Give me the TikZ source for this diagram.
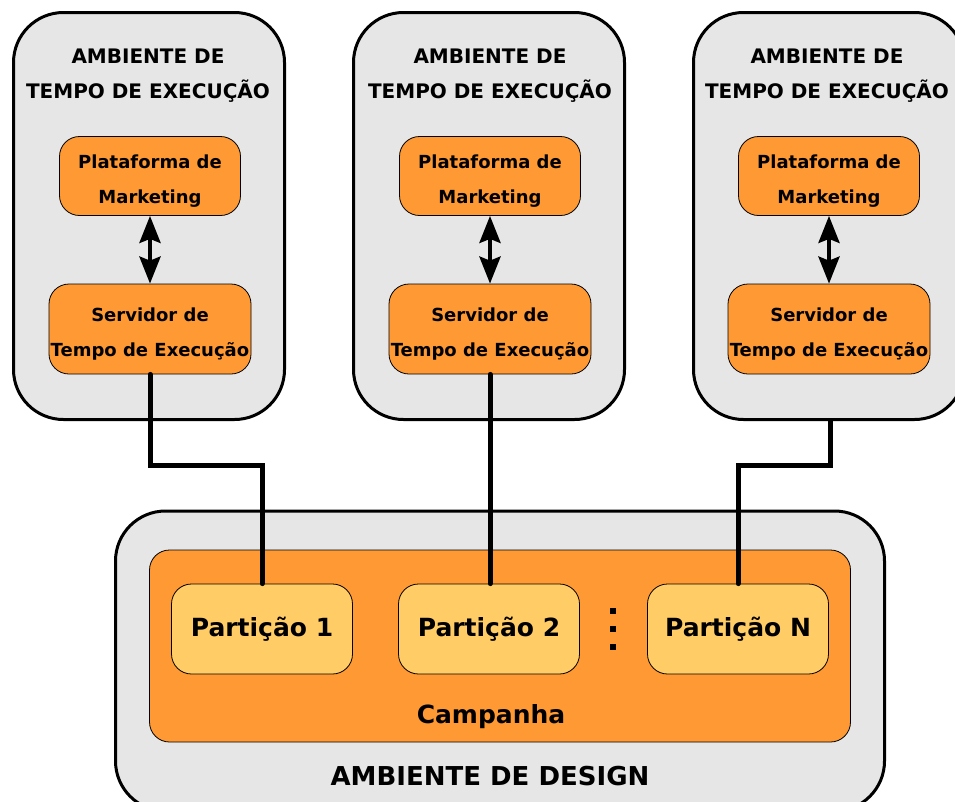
\documentclass[tikz,border=0pt]{standalone}
\usepackage{fontspec}
\setmainfont{DejaVu Sans}
\usepackage{tikz}
\usetikzlibrary{arrows.meta}
\usetikzlibrary{positioning}
\definecolor{envgray}{RGB}{230,230,230}
\definecolor{boxorange}{RGB}{255,153,51}
\definecolor{partyellow}{RGB}{255,204,102}
\tikzset{env/.style={draw, line width=3pt, fill=envgray, rounded corners=50pt, minimum width=271pt, minimum height=407pt}}
\tikzset{comp/.style={draw, line width=0.8pt, fill=boxorange, rounded corners=20pt, align=center, inner sep=0pt, font=\bfseries\fontsize{18}{35}\selectfont, text height=55pt, text depth=0pt}}
\tikzset{part/.style={draw, line width=0.8pt, fill=partyellow, rounded corners=20pt, minimum width=181pt, minimum height=90pt, font=\bfseries\fontsize{25}{30}\selectfont}}
\tikzset{title/.style={align=center, font=\bfseries\fontsize{20}{35}\selectfont}}
\tikzset{link/.style={line width=5pt, line cap=round, line join=miter}}
\tikzset{both/.style={line width=4pt, {Stealth[length=27pt,width=21pt,inset=4pt]}-{Stealth[length=27pt,width=21pt,inset=4pt]}}}
\begin{document}
\begin{tikzpicture}[x=1pt,y=-1pt]
\useasboundingbox (0,0) rectangle (955,801);

% runtime environments
\node[env] (E1) at (149,216) {};
\node[env] (E2) at (489,216) {};
\node[env] (E3) at (829,216) {};

\node[title] (T1) at (148,76) {AMBIENTE DE\\TEMPO DE EXECUÇÃO};
\node[title] (T2) at (490,76) {AMBIENTE DE\\TEMPO DE EXECUÇÃO};
\node[title] (T3) at (827,76) {AMBIENTE DE\\TEMPO DE EXECUÇÃO};

\node[comp, minimum width=181pt, minimum height=79pt] (M1) at (150,176) {Plataforma de\\Marketing};
\node[comp, minimum width=181pt, minimum height=79pt] (M2) at (490,176) {Plataforma de\\Marketing};
\node[comp, minimum width=181pt, minimum height=79pt] (M3) at (829,176) {Plataforma de\\Marketing};

\node[comp, minimum width=202pt, minimum height=90pt] (S1) at (150,329) {Servidor de\\Tempo de Execução};
\node[comp, minimum width=202pt, minimum height=90pt] (S2) at (490,329) {Servidor de\\Tempo de Execução};
\node[comp, minimum width=202pt, minimum height=90pt] (S3) at (829,329) {Servidor de\\Tempo de Execução};

\draw[both] (M1) -- (S1);
\draw[both] (M2) -- (S2);
\draw[both] (M3) -- (S3);

% design environment
\node[env, minimum width=769pt, minimum height=300pt] (D) at (500,661) {};
\node[draw, line width=0.8pt, fill=boxorange, rounded corners=20pt, minimum width=701pt, minimum height=192pt] (C) at (500,646) {};

\node[part] (P1) at (262,629) {Partição 1};
\node[part] (P2) at (489,629) {Partição 2};
\node[part] (P3) at (738,629) {Partição N};

\node[font=\bfseries\fontsize{25}{30}\selectfont] (L1) at (491,717) {Campanha};
\node[font=\bfseries\fontsize{26}{30}\selectfont] (L2) at (490,776) {AMBIENTE DE DESIGN};

\coordinate (J1a) at (150,465);
\coordinate (J1b) at (262,465);
\coordinate (J3a) at (830,465);
\coordinate (J3b) at (738,465);

\draw[link] (S1.south) -- (J1a) -- (J1b) -- (P1.north);
\draw[link] (S2.south) -- (S2.south |- P2.north);
\draw[link] (E3.south -| J3a) -- (J3a) -- (J3b) -- (P3.north);

% dots
\foreach \y/\n in {611/a,629/b,647/c}
  \node[fill=black, inner sep=0pt, minimum width=6pt, minimum height=6pt] (dot\n) at (613,\y) {};
\end{tikzpicture}
\end{document}
